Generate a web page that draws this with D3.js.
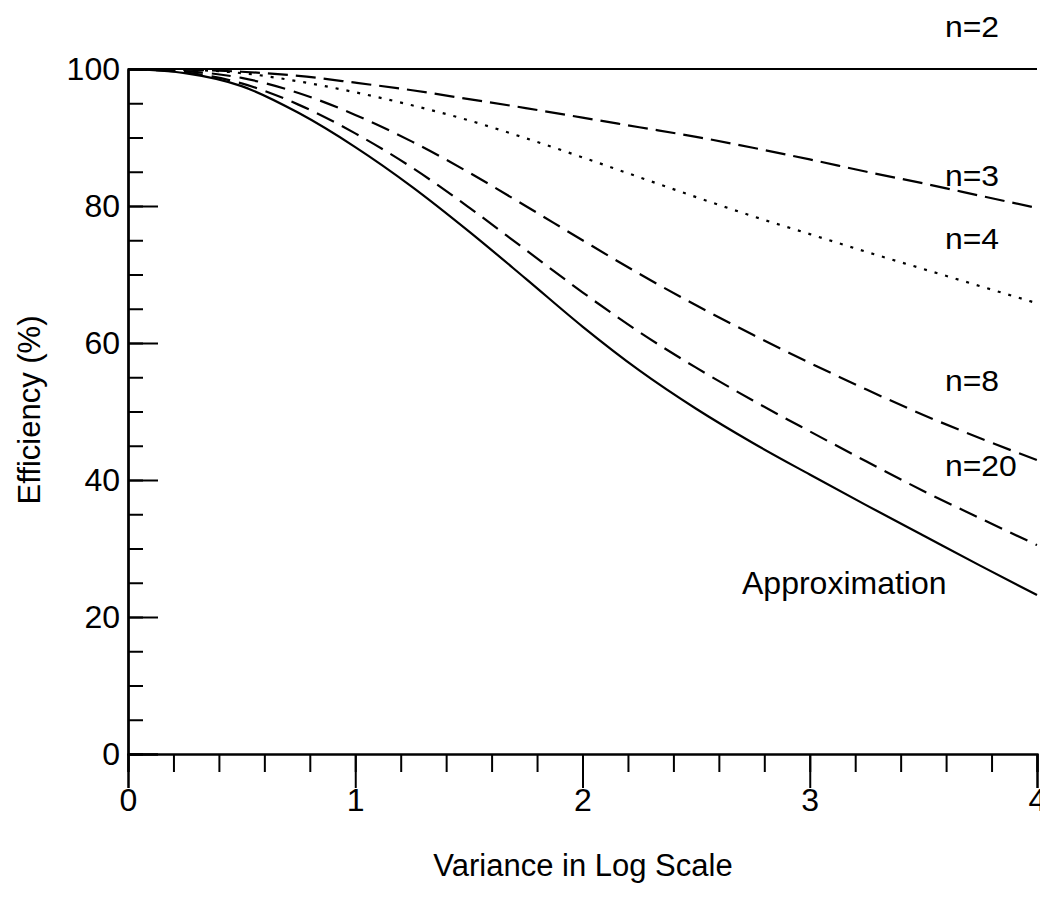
<!DOCTYPE html>
<html>
<head>
<meta charset="utf-8">
<script src="https://cdn.jsdelivr.net/npm/d3@7"></script>
<style>
  body { margin: 0; background: #fff; }
  svg { display: block; font-family: "Liberation Sans", Arial, Helvetica, sans-serif; }
</style>
</head>
<body>
<svg id="canvas"></svg>
<script>
// variance in log scale (x) and efficiency in % for each curve
let variance = [0, 0.25, 0.5, 0.75, 1, 1.25, 1.5, 1.75, 2, 2.25, 2.5, 2.75, 3, 3.25, 3.5, 3.75, 4];
let effN2 = [100, 100, 100, 100, 100, 100, 100, 100, 100, 100, 100, 100, 100, 100, 100, 100, 100];
let effN3 = [100, 99.9, 99.6, 99.0, 98.0, 96.9, 95.6, 94.3, 92.9, 91.5, 90.1, 88.5, 86.8, 85.0, 83.3, 81.5, 79.7];
let effN4 = [100, 99.9, 99.4, 98.2, 96.6, 94.7, 92.5, 89.9, 87.1, 84.2, 81.3, 78.5, 75.9, 73.3, 70.8, 68.3, 65.8];
let effN8 = [100, 99.7, 98.7, 96.5, 93.3, 89.4, 84.9, 80.0, 75.0, 70.1, 65.5, 61.2, 57.1, 53.2, 49.5, 46.1, 42.9];
let effN20 = [100, 99.5, 97.9, 94.8, 90.6, 85.6, 79.8, 73.6, 67.4, 61.6, 56.4, 51.6, 47.1, 42.7, 38.4, 34.4, 30.5];
let effApprox = [100, 99.4, 97.5, 93.6, 88.6, 82.8, 76.3, 69.4, 62.4, 56.0, 50.4, 45.4, 40.8, 36.3, 31.9, 27.5, 23.2];

let curveNames = ['n=2', 'n=3', 'n=4', 'n=8', 'n=20', 'Approximation'];
let xTickLabels = [0, 1, 2, 3, 4];
let yTickLabels = [0, 20, 40, 60, 80, 100];

let width = 1040;
let height = 912;

let canvas = d3.select('#canvas')
canvas.attr('width', width)
canvas.attr('height', height)

let xScale = d3.scaleLinear().domain([0, 4]).range([128, 1037])
let yScale = d3.scaleLinear().domain([0, 100]).range([754, 69])

let series = [
    { name: curveNames[0], values: effN2, dash: null, lx: 945, ly: 37 },
    { name: curveNames[1], values: effN3, dash: '20,8', lx: 945, ly: 186 },
    { name: curveNames[2], values: effN4, dash: '3,8', lx: 945, ly: 249 },
    { name: curveNames[3], values: effN8, dash: '19,9', lx: 945, ly: 391 },
    { name: curveNames[4], values: effN20, dash: '19,9', lx: 945, ly: 476 },
    { name: curveNames[5], values: effApprox, dash: null, lx: 742, ly: 594 }
]

let drawAxis = () => {
    // y axis: minor ticks every 5, major every 20, pointing inwards
    let yMinor = d3.axisRight(yScale).tickValues(d3.range(0, 101, 5)).tickSize(15).tickFormat('')
    canvas.append('g').attr('transform', 'translate(128,0)').call(yMinor)

    let yMajor = d3.axisRight(yScale).tickValues(yTickLabels).tickSize(30).tickFormat('')
    canvas.append('g').attr('transform', 'translate(128,0)').call(yMajor)

    let yLabels = d3.axisLeft(yScale).tickValues(yTickLabels).tickSize(0).tickPadding(8)
    canvas.append('g').attr('class', 'labels').attr('transform', 'translate(128,0)').call(yLabels)

    // x axis: minor ticks every 0.2, major at integers, pointing down
    let xMinor = d3.axisBottom(xScale).tickValues(d3.range(0, 21).map(d => d / 5)).tickSize(18).tickFormat('')
    canvas.append('g').attr('transform', 'translate(0,754)').call(xMinor)

    let xMajor = d3.axisBottom(xScale).tickValues(xTickLabels).tickSize(34).tickPadding(0).tickFormat(d3.format('d'))
    canvas.append('g').attr('class', 'labels').attr('transform', 'translate(0,754)').call(xMajor)

    canvas.selectAll('.domain').attr('stroke', '#000').attr('stroke-width', 2)
    canvas.selectAll('.tick line').attr('stroke', '#000').attr('stroke-width', 2)
    canvas.selectAll('.labels .tick text')
        .attr('fill', '#000')
        .style('font-size', '32px')
        .style('font-family', '"Liberation Sans", Arial, sans-serif')

    canvas.append('text')
        .attr('x', 583)
        .attr('y', 876)
        .attr('text-anchor', 'middle')
        .style('font-size', '31px')
        .text('Variance in Log Scale')

    canvas.append('text')
        .attr('transform', 'translate(40,410) rotate(-90)')
        .attr('text-anchor', 'middle')
        .style('font-size', '31px')
        .text('Efficiency (%)')
}

let drawLines = () => {
    let line = d3.line()
        .x((d, i) => xScale(variance[i]))
        .y(d => yScale(d))
        .curve(d3.curveMonotoneX)

    canvas.selectAll('path.curve')
        .data(series)
        .enter()
        .append('path')
        .attr('class', 'curve')
        .attr('d', s => line(s.values))
        .attr('fill', 'none')
        .attr('stroke', '#000')
        .attr('stroke-width', 2.2)
        .attr('stroke-dasharray', s => s.dash)

    canvas.selectAll('text.curve-label')
        .data(series)
        .enter()
        .append('text')
        .attr('class', 'curve-label')
        .attr('transform', s => s.name == 'Approximation'
            ? 'translate(' + s.lx + ',' + s.ly + ')'
            : 'translate(' + s.lx + ',' + s.ly + ') scale(1.1,1)')
        .style('font-size', s => s.name == 'Approximation' ? '32px' : '29px')
        .text(s => s.name)
}

drawAxis();
drawLines();
</script>
</body>
</html>
